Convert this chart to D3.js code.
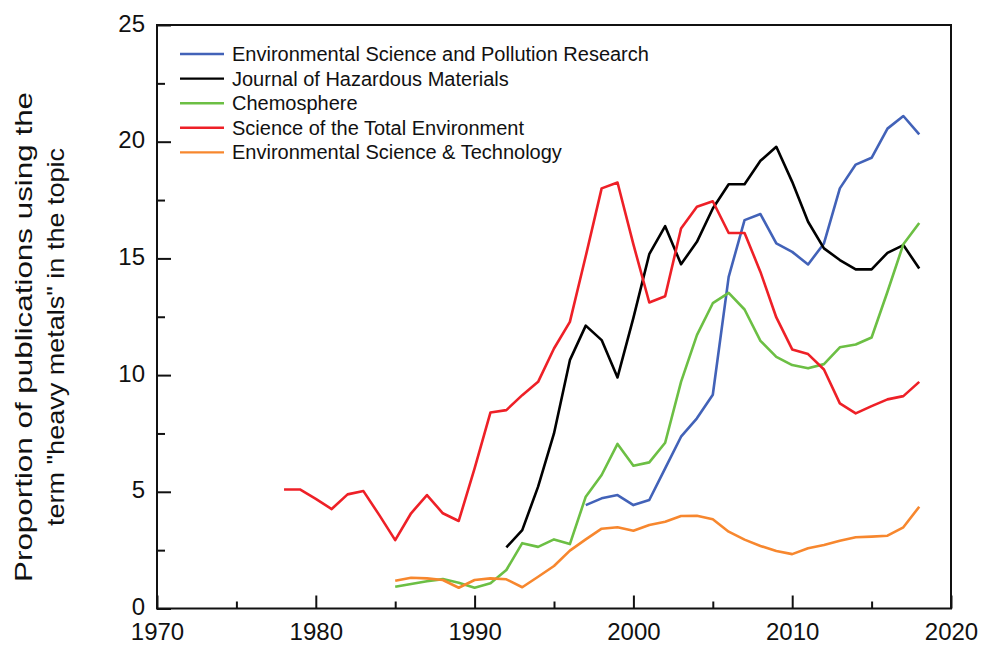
<!DOCTYPE html>
<html>
<head>
<meta charset="utf-8">
<script src="https://cdn.jsdelivr.net/npm/d3@7"></script>
<style>
  body { margin: 0; background: #fff; }
  text { font-family: "Liberation Sans", Arial, sans-serif; fill: #111; }
</style>
</head>
<body>
<svg id="chart" width="982" height="646"></svg>
<script>
// Datos (proporcion en %)
const years = [1978, 1979, 1980, 1981, 1982, 1983, 1984, 1985, 1986, 1987, 1988, 1989, 1990,
  1991, 1992, 1993, 1994, 1995, 1996, 1997, 1998, 1999, 2000, 2001, 2002, 2003, 2004, 2005,
  2006, 2007, 2008, 2009, 2010, 2011, 2012, 2013, 2014, 2015, 2016, 2017, 2018];

const espr = [null, null, null, null, null, null, null, null, null, null, null, null, null,
  null, null, null, null, null, null, 4.43, 4.72, 4.86, 4.43, 4.65, 6.0, 7.36, 8.15, 9.16,
  14.21, 16.64, 16.9, 15.64, 15.28, 14.74, 15.64, 18.0, 19.02, 19.31, 20.56, 21.1, 20.31];

const jhm = [null, null, null, null, null, null, null, null, null, null, null, null, null,
  null, 2.62, 3.36, 5.22, 7.5, 10.64, 12.12, 11.5, 9.9, 12.45, 15.18, 16.38, 14.75, 15.71, 17.14,
  18.18, 18.18, 19.18, 19.78, 18.28, 16.57, 15.43, 14.93, 14.53, 14.53, 15.24, 15.57, 14.57];

const chemosphere = [null, null, null, null, null, null, null, 0.93, 1.05, 1.17, 1.26, 1.1, 0.89,
  1.08, 1.65, 2.8, 2.64, 2.96, 2.76, 4.79, 5.72, 7.05, 6.12, 6.26, 7.1, 9.71, 11.71, 13.08,
  13.52, 12.81, 11.47, 10.78, 10.43, 10.29, 10.47, 11.19, 11.31, 11.61, 13.57, 15.61, 16.52];

const stoten = [5.1, 5.1, 4.7, 4.26, 4.89, 5.03, 4.0, 2.93, 4.08, 4.86, 4.08, 3.75, 6.0,
  8.4, 8.5, 9.14, 9.71, 11.14, 12.28, 15.1, 18.0, 18.25, 15.6, 13.11, 13.38, 16.28, 17.21, 17.45,
  16.09, 16.09, 14.42, 12.47, 11.1, 10.9, 10.24, 8.79, 8.36, 8.67, 8.96, 9.1, 9.71];

const est = [null, null, null, null, null, null, null, 1.19, 1.32, 1.29, 1.22, 0.89, 1.22,
  1.29, 1.25, 0.91, 1.36, 1.82, 2.48, 2.96, 3.42, 3.48, 3.33, 3.58, 3.72, 3.96, 3.97, 3.82,
  3.29, 2.95, 2.68, 2.46, 2.33, 2.58, 2.72, 2.9, 3.05, 3.08, 3.12, 3.48, 4.36];

const seriesNames = [
  'Environmental Science and Pollution Research',
  'Journal of Hazardous Materials',
  'Chemosphere',
  'Science of the Total Environment',
  'Environmental Science & Technology'
];
const seriesValues = [espr, jhm, chemosphere, stoten, est];
const colores = ['#4262b8', '#000000', '#6cbf44', '#ee2027', '#f7872e'];

const xMajor = [1970, 1980, 1990, 2000, 2010, 2020];
const xMinor = [1975, 1985, 1995, 2005, 2015];
const yMajor = [0, 5, 10, 15, 20, 25];
const yMinor = [2.5, 7.5, 12.5, 17.5, 22.5];

// Escalas
const x = d3.scaleLinear().domain([1970, 2020]).range([157, 951]);
const y = d3.scaleLinear().domain([0, 25]).range([608.5, 25]);

const svg = d3.select('#chart');

// Lineas de las series
const linea = d3.line()
  .defined(d => d.v !== null)
  .x(d => x(d.year))
  .y(d => y(d.v));

seriesValues.forEach((vals, i) => {
  const pts = years.map((yr, k) => ({ year: yr, v: vals[k] }));
  svg.append('path')
    .datum(pts)
    .attr('fill', 'none')
    .attr('stroke', colores[i])
    .attr('stroke-width', 2.6)
    .attr('stroke-linejoin', 'round')
    .attr('d', linea);
});

// Ejes con marcas hacia dentro
function estiloEje(g) {
  g.select('.domain').remove();
  g.selectAll('line').attr('stroke', '#111').attr('stroke-width', 2);
  g.selectAll('text').style('font-size', '24px').attr('fill', '#111');
}

svg.append('g')
  .attr('transform', `translate(0, ${y(0)})`)
  .call(d3.axisBottom(x).tickValues(xMajor).tickFormat(d3.format('d')).tickSize(-13).tickPadding(14))
  .call(estiloEje);

svg.append('g')
  .attr('transform', `translate(0, ${y(0)})`)
  .call(d3.axisBottom(x).tickValues(xMinor).tickFormat('').tickSize(-7))
  .call(estiloEje);

svg.append('g')
  .attr('transform', `translate(${x(1970)}, 0)`)
  .call(d3.axisLeft(y).tickValues(yMajor).tickSize(-14).tickPadding(12))
  .call(estiloEje)
  .call(g => g.selectAll('text').attr('dy', '0.25em'));

svg.append('g')
  .attr('transform', `translate(${x(1970)}, 0)`)
  .call(d3.axisLeft(y).tickValues(yMinor).tickFormat('').tickSize(-8))
  .call(estiloEje);

// Marco
svg.append('rect')
  .attr('x', x(1970))
  .attr('y', y(25))
  .attr('width', x(2020) - x(1970))
  .attr('height', y(0) - y(25))
  .attr('fill', 'none')
  .attr('stroke', '#111')
  .attr('stroke-width', 2);

// Titulo del eje y
const titulo = svg.append('g').attr('transform', 'translate(0, 337) rotate(-90)');
titulo.append('text')
  .attr('x', 0).attr('y', 32)
  .attr('text-anchor', 'middle')
  .attr('textLength', 490).attr('lengthAdjust', 'spacingAndGlyphs')
  .style('font-size', '24px')
  .text('Proportion of publications using the');
titulo.append('text')
  .attr('x', 0).attr('y', 64)
  .attr('text-anchor', 'middle')
  .attr('textLength', 378).attr('lengthAdjust', 'spacingAndGlyphs')
  .style('font-size', '24px')
  .text('term "heavy metals" in the topic');

// Leyenda
const leyenda = svg.append('g').attr('transform', 'translate(180, 54)');
seriesNames.forEach((nombre, i) => {
  const fila = leyenda.append('g').attr('transform', `translate(0, ${i * 24.6})`);
  fila.append('line')
    .attr('x1', 0).attr('x2', 44)
    .attr('stroke', colores[i])
    .attr('stroke-width', 2.4);
  fila.append('text')
    .attr('x', 52)
    .attr('dy', '0.35em')
    .style('font-size', '20px')
    .text(nombre);
});
</script>
</body>
</html>
